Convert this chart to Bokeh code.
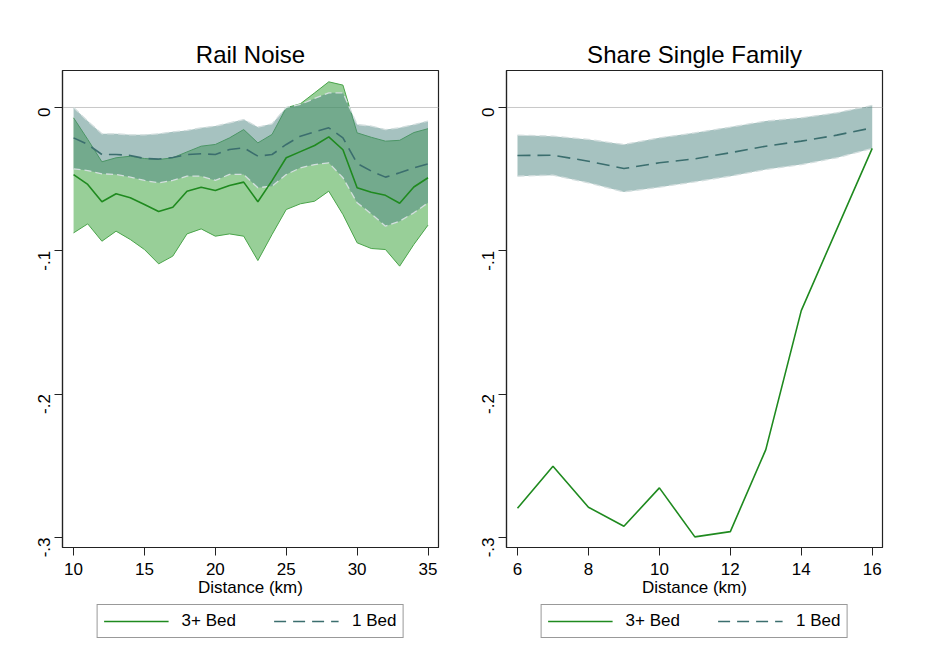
import math
from bokeh.plotting import figure
from bokeh.models import Span, Legend, LegendItem, FixedTicker
from bokeh.layouts import row, column
from bokeh.embed import file_html
from bokeh.resources import INLINE

# ---------------- data ----------------
rail_km = list(range(10, 36))
rail_bed3 = [-0.0468, -0.0537, -0.0658, -0.0602, -0.0630, -0.0677, -0.0726, -0.0696, -0.0584, -0.0556,
             -0.0579, -0.0544, -0.0521, -0.0658, -0.0510, -0.0351, -0.0308, -0.0265, -0.0205, -0.0295,
             -0.0560, -0.0592, -0.0613, -0.0668, -0.0555, -0.0490]
rail_bed3_hi = [-0.0072, -0.0223, -0.0379, -0.0351, -0.0340, -0.0356, -0.0363, -0.0351, -0.0310, -0.0270,
                -0.0258, -0.0212, -0.0154, -0.0247, -0.0188, -0.0002, 0.0026, 0.0102, 0.0179, 0.0156,
                -0.0177, -0.0208, -0.0235, -0.0229, -0.0175, -0.0148]
rail_bed3_lo = [-0.0875, -0.0812, -0.0933, -0.0863, -0.0921, -0.0991, -0.1091, -0.1037, -0.0882, -0.0847,
                -0.0898, -0.0882, -0.0898, -0.1068, -0.0886, -0.0712, -0.0672, -0.0654, -0.0584, -0.0747,
                -0.0944, -0.0984, -0.0991, -0.1107, -0.0956, -0.0821]
rail_bed1 = [-0.0212, -0.0258, -0.0328, -0.0328, -0.0335, -0.0356, -0.0360, -0.0349, -0.0328, -0.0323,
             -0.0328, -0.0293, -0.0281, -0.0340, -0.0328, -0.0258, -0.0200, -0.0170, -0.0142, -0.0212,
             -0.0390, -0.0444, -0.0486, -0.0456, -0.0421, -0.0393]
rail_bed1_hi = [0.0000, -0.0095, -0.0184, -0.0184, -0.0191, -0.0191, -0.0184, -0.0170, -0.0160, -0.0142,
                -0.0130, -0.0107, -0.0084, -0.0137, -0.0114, 0.0000, 0.0021, 0.0063, 0.0102, 0.0102,
                -0.0119, -0.0130, -0.0154, -0.0142, -0.0119, -0.0095]
rail_bed1_lo = [-0.0428, -0.0440, -0.0463, -0.0467, -0.0486, -0.0509, -0.0526, -0.0509, -0.0479, -0.0479,
                -0.0509, -0.0467, -0.0467, -0.0560, -0.0549, -0.0468, -0.0421, -0.0398, -0.0386, -0.0490,
                -0.0665, -0.0742, -0.0828, -0.0793, -0.0735, -0.0665]

sf_km = list(range(6, 17))
sf_bed3 = [-0.2796, -0.2503, -0.2789, -0.2922, -0.2654, -0.2996, -0.2959, -0.2387, -0.1417, -0.0850, -0.0285]
sf_bed1 = [-0.0335, -0.0333, -0.0375, -0.0426, -0.0386, -0.0358, -0.0316, -0.0270, -0.0235, -0.0193, -0.0142]
sf_bed1_hi = [-0.0193, -0.0200, -0.0223, -0.0258, -0.0212, -0.0177, -0.0137, -0.0095, -0.0072, -0.0037, 0.0014]
sf_bed1_lo = [-0.0479, -0.0472, -0.0526, -0.0589, -0.0556, -0.0519, -0.0479, -0.0433, -0.0398, -0.0351, -0.0286]

y_ticks = [0, -0.1, -0.2, -0.3]
y_tick_labels = {0: "0", -0.1: "-.1", -0.2: "-.2", -0.3: "-.3"}
rail_x_ticks = [10, 15, 20, 25, 30, 35]
sf_x_ticks = [6, 8, 10, 12, 14, 16]
series_labels = ["3+ Bed", "1 Bed"]

FONT = "Liberation Sans"
GREEN_FILL = "#319f31"
GREEN_EDGE = "#4aa44a"
GREEN_LINE = "#1f8a1f"
TEAL_FILL = "#4d8581"
TEAL_LINE = "#3b6e6e"
TEAL_EDGE = "#d3dede"
MEAN_DASH = "13 7"
CI_DASH = "7 4"
RAIL_XR = (9.22, 35.74)
SF_XR = (5.69, 16.29)


def make_fig(title, xr, xticks, left, right):
    p = figure(frame_width=376, frame_height=477, x_range=xr, y_range=(-0.307, 0.0258),
               output_backend="svg", toolbar_location=None,
               min_border_left=left, min_border_right=right,
               min_border_top=70, min_border_bottom=0)
    p.title.text = title
    p.title.align = "center"
    p.title.text_font = FONT
    p.title.text_font_size = "24px"
    p.title.text_font_style = "normal"
    p.title.text_color = "black"
    p.title.standoff = 6
    p.outline_line_color = "#222222"
    p.outline_line_width = 1.2
    p.background_fill_color = "white"
    p.border_fill_color = "white"
    p.grid.visible = False
    for ax in (p.xaxis[0], p.yaxis[0]):
        ax.axis_line_color = "#222222"
        ax.axis_line_width = 1.2
        ax.major_tick_line_color = "#222222"
        ax.major_tick_out = 8
        ax.major_tick_in = 0
        ax.minor_tick_line_color = None
        ax.major_label_text_font = FONT
        ax.major_label_text_font_size = "17px"
        ax.major_label_text_color = "black"
    p.xaxis.major_label_standoff = 7
    p.yaxis.major_label_standoff = 10
    p.xaxis.ticker = FixedTicker(ticks=xticks)
    p.xaxis.axis_label = "Distance (km)"
    p.xaxis.axis_label_text_font = FONT
    p.xaxis.axis_label_text_font_size = "17px"
    p.xaxis.axis_label_text_font_style = "normal"
    p.xaxis.axis_label_text_color = "black"
    p.xaxis.axis_label_standoff = 0
    p.yaxis.ticker = FixedTicker(ticks=y_ticks)
    p.yaxis.major_label_overrides = y_tick_labels
    p.yaxis.major_label_orientation = math.pi / 2
    p.add_layout(Span(location=0, dimension="width", line_color="#c8c8c8",
                      line_width=1, level="underlay"))
    return p


def legend_fig(left, right, xr, xs, ys3, ys1):
    # legend strip below each panel; its series lines lie outside the visible y range
    f = figure(frame_width=376, frame_height=44, x_range=xr, y_range=(5, 6),
               output_backend="svg", toolbar_location=None,
               min_border_left=left, min_border_right=right,
               min_border_top=0, min_border_bottom=0)
    f.axis.visible = False
    f.grid.visible = False
    f.outline_line_color = None
    f.background_fill_color = "white"
    f.border_fill_color = "white"
    r3 = f.line(xs, ys3, line_color=GREEN_LINE, line_width=1.6)
    r1 = f.line(xs, ys1, line_color=TEAL_LINE, line_width=1.6, line_dash="12 7")
    leg = Legend(items=[LegendItem(label=series_labels[0], renderers=[r3]),
                        LegendItem(label=series_labels[1], renderers=[r1])],
                 orientation="horizontal", location="center")
    leg.label_text_font = FONT
    leg.label_text_font_size = "17px"
    leg.label_text_color = "black"
    leg.label_height = 20
    leg.glyph_height = 20
    leg.glyph_width = 65
    leg.label_standoff = 13
    leg.spacing = 38
    leg.padding = 6
    leg.margin = 0
    leg.border_line_color = "#333333"
    leg.border_line_width = 1.2
    leg.background_fill_color = "white"
    f.add_layout(leg)
    return f


# ---------------- left: Rail Noise ----------------
p1 = make_fig("Rail Noise", RAIL_XR, rail_x_ticks, 62, 34)
p1.varea(x=rail_km, y1=rail_bed3_lo, y2=rail_bed3_hi, fill_color=GREEN_FILL, fill_alpha=0.5)
p1.line(rail_km, rail_bed3_hi, line_color=GREEN_EDGE, line_width=1)
p1.line(rail_km, rail_bed3_lo, line_color=GREEN_EDGE, line_width=1)
p1.varea(x=rail_km, y1=rail_bed1_lo, y2=rail_bed1_hi, fill_color=TEAL_FILL, fill_alpha=0.5)
p1.line(rail_km, rail_bed1_hi, line_color=TEAL_EDGE, line_width=1.3, line_dash=CI_DASH)
p1.line(rail_km, rail_bed1_lo, line_color=TEAL_EDGE, line_width=1.3, line_dash=CI_DASH)
p1.line(rail_km, rail_bed3, line_color=GREEN_LINE, line_width=1.6)
p1.line(rail_km, rail_bed1, line_color=TEAL_LINE, line_width=1.6, line_dash=MEAN_DASH)

# ---------------- right: Share Single Family ----------------
p2 = make_fig("Share Single Family", SF_XR, sf_x_ticks, 34, 30)
p2.varea(x=sf_km, y1=sf_bed1_lo, y2=sf_bed1_hi, fill_color=TEAL_FILL, fill_alpha=0.5)
p2.line(sf_km, sf_bed1_hi, line_color=TEAL_EDGE, line_width=1.3, line_dash=CI_DASH)
p2.line(sf_km, sf_bed1_lo, line_color=TEAL_EDGE, line_width=1.3, line_dash=CI_DASH)
p2.line(sf_km, sf_bed3, line_color=GREEN_LINE, line_width=1.6)
p2.line(sf_km, sf_bed1, line_color=TEAL_LINE, line_width=1.6, line_dash=MEAN_DASH)

l1 = legend_fig(62, 34, RAIL_XR, rail_km, rail_bed3, rail_bed1)
l2 = legend_fig(34, 30, SF_XR, sf_km, sf_bed3, sf_bed1)

layout = column(row(p1, p2), row(l1, l2), spacing=0)
open("out.html", "w").write(file_html(layout, INLINE))
